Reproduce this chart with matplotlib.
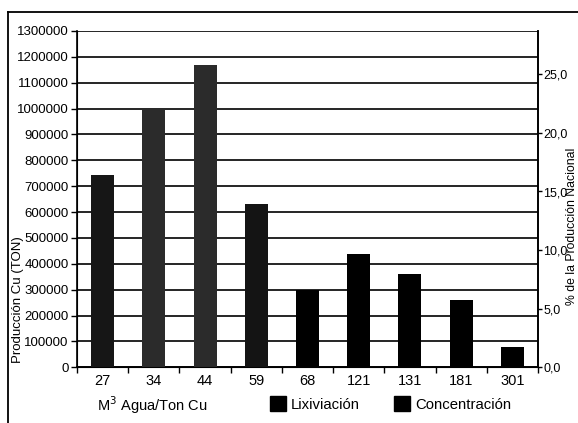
import matplotlib
matplotlib.use("Agg")
import matplotlib.pyplot as plt
from matplotlib.patches import Patch
from matplotlib.lines import Line2D
import numpy as np

# Water use per tonne of copper and national copper output
categories = ["27", "34", "44", "59", "68", "121", "131", "181", "301"]
produccion = [745000, 1000000, 1170000, 630000, 300000, 438000, 362000, 260000, 80000]
bar_colors = ["#161616", "#2b2b2b", "#2b2b2b", "#141414", "#000000",
              "#000000", "#000000", "#000000", "#000000"]
left_ticks = list(range(0, 1300001, 100000))
right_ticks = [0, 5, 10, 15, 20, 25]
right_tick_labels = ["0,0", "5,0", "10,0", "15,0", "20,0", "25,0"]
legend_labels = ["Lixiviación", "Concentración"]

plt.rcParams["font.family"] = ["Liberation Sans", "DejaVu Sans"]
fs = 9.5

fig = plt.figure(figsize=(5.78, 4.23), dpi=100)
ax = fig.add_axes([77 / 578, 1 - 367.3 / 423, (538 - 77) / 578, 336.3 / 423])

x = np.arange(len(categories))
ax.bar(x, produccion, width=0.45, color=bar_colors, zorder=3)

ax.set_xlim(-0.5, len(categories) - 0.5)
ax.set_ylim(0, 1300000)
ax.set_yticks(left_ticks)
ax.set_yticklabels([str(v) for v in left_ticks], fontsize=fs)
ax.set_xticks(x)
ax.set_xticklabels(categories, fontsize=fs + 1)
ax.set_xticks(np.arange(len(categories) + 1) - 0.5, minor=True)
ax.tick_params(axis="x", which="major", length=0, pad=5)
ax.tick_params(axis="x", which="minor", length=4, width=1, direction="out")
ax.tick_params(axis="y", length=4, width=1, direction="out", pad=2)

ax.yaxis.grid(True, color="black", linewidth=1.2, zorder=1)
ax.set_axisbelow(True)
for side in ["left", "bottom", "right"]:
    ax.spines[side].set_linewidth(1.2)
ax.spines["top"].set_visible(False)

# Right-hand scale: share of national production (%)
ax2 = ax.twinx()
ax2.set_ylim(0, 336.3 / 11.72)
ax2.set_yticks(right_ticks)
ax2.set_yticklabels(right_tick_labels, fontsize=9)
ax2.tick_params(axis="y", length=3, width=1, direction="out", pad=1)
ax2.spines["top"].set_visible(False)
ax2.spines["right"].set_linewidth(1.2)

fig.text(18 / 578, 1 - 300 / 423, "Producción Cu (TON)", rotation=90,
         ha="center", va="center", fontsize=fs)
fig.text(566 / 578, 1 - 226 / 423, "% de la Producción Nacional", rotation=90,
         ha="left", va="center", fontsize=8.8)
fig.text(97 / 578, 1 - 405 / 423, "M$^{3}$ Agua/Ton Cu", ha="left", va="center",
         fontsize=fs + 1)

handles = [Patch(facecolor="black", edgecolor="black") for _ in legend_labels]
fig.legend(handles, legend_labels, loc="center left",
           bbox_to_anchor=(270 / 578, 1 - 404 / 423),
           ncol=2, frameon=False, fontsize=fs + 1.2, handlelength=1.05, handleheight=1.1,
           handletextpad=0.35, columnspacing=2.3, borderaxespad=0, borderpad=0)

# Outer frame lines
fig.add_artist(Line2D([8 / 578, 1], [1 - 12 / 423, 1 - 12 / 423],
                      transform=fig.transFigure, color="black", linewidth=1.3))
fig.add_artist(Line2D([8 / 578, 8 / 578], [0, 1 - 12 / 423],
                      transform=fig.transFigure, color="black", linewidth=1.3))

fig.savefig("out.png", dpi=100)
